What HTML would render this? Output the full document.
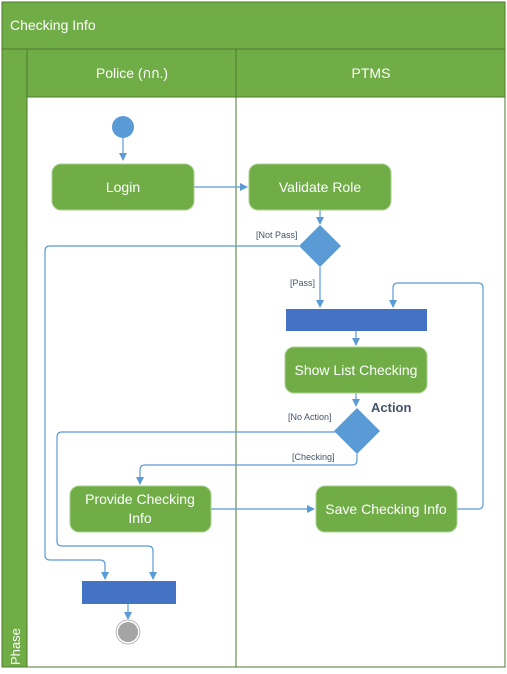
<!DOCTYPE html>
<html><head><style>body{margin:0;background:#fff}svg{display:block}</style></head><body>
<svg width="507" height="674" xmlns="http://www.w3.org/2000/svg" font-family="Liberation Sans, sans-serif">
<defs><marker id="a" markerWidth="8" markerHeight="8" refX="7" refY="4" orient="auto" markerUnits="userSpaceOnUse"><path d="M0,0 L8,4 L0,8 z" fill="#5b9bd5"/></marker></defs>
<rect x="2" y="2" width="503" height="665" fill="#fff" stroke="#4e7a2c"/>
<rect x="2" y="2" width="503" height="47" fill="#70ad47" stroke="#4e7a2c"/>
<text x="10" y="30" font-size="14" fill="#fff">Checking Info</text>
<rect x="2" y="49" width="25" height="618" fill="#70ad47" stroke="#4e7a2c"/>
<text transform="translate(20,665) rotate(-90)" font-size="13" fill="#fff">Phase</text>
<rect x="27" y="49" width="478" height="48" fill="#70ad47" stroke="#4e7a2c"/>
<line x1="236" y1="49" x2="236" y2="667" stroke="#4e7a2c"/>
<text x="132" y="78" font-size="14" fill="#fff" text-anchor="middle">Police (กก.)</text>
<text x="371" y="78" font-size="14" fill="#fff" text-anchor="middle">PTMS</text>
<g fill="none" stroke="#5b9bd5" stroke-width="1.2">
<path d="M123,138 V160" marker-end="url(#a)"/>
<path d="M194,187 H247" marker-end="url(#a)"/>
<path d="M320,210 V224" marker-end="url(#a)"/>
<path d="M320,267 V307" marker-end="url(#a)"/>
<path d="M299,246 H50 Q45,246 45,251 V555 Q45,560 50,560 H100 Q105,560 105,565 V579" marker-end="url(#a)"/>
<path d="M336,432 H62 Q57,432 57,437 V541 Q57,546 62,546 H148 Q153,546 153,551 V579" marker-end="url(#a)"/>
<path d="M357,454 V460 Q357,465 352,465 H145 Q140,465 140,470 V484" marker-end="url(#a)"/>
<path d="M211,509 H314" marker-end="url(#a)"/>
<path d="M457,509 H478 Q483,509 483,504 V288 Q483,283 478,283 H398 Q393,283 393,288 V307" marker-end="url(#a)"/>
<path d="M356,331 V345" marker-end="url(#a)"/>
<path d="M356,393 V406" marker-end="url(#a)"/>
<path d="M128,604 V619" marker-end="url(#a)"/>
</g>
<circle cx="123" cy="127" r="11" fill="#5b9bd5"/>
<g fill="#70ad47" stroke="#a9d18e">
<rect x="52" y="164" width="142" height="46" rx="9"/>
<rect x="249" y="164" width="142" height="46" rx="9"/>
<rect x="285" y="347" width="142" height="46" rx="9"/>
<rect x="70" y="486" width="141" height="46" rx="9"/>
<rect x="316" y="486" width="141" height="46" rx="9"/>
</g>
<g font-size="14" fill="#fff" text-anchor="middle">
<text x="123" y="192">Login</text>
<text x="320" y="192">Validate Role</text>
<text x="356" y="375">Show List Checking</text>
<text x="140" y="504">Provide Checking</text>
<text x="140" y="523">Info</text>
<text x="386" y="514">Save Checking Info</text>
</g>
<path d="M320,225 L341,246 L320,267 L299,246 z" fill="#5b9bd5"/>
<path d="M357,408 L380,431 L357,454 L334,431 z" fill="#5b9bd5"/>
<rect x="286" y="309" width="141" height="22" fill="#4472c4"/>
<rect x="82" y="581" width="94" height="23" fill="#4472c4"/>
<circle cx="128" cy="632" r="12" fill="#fff" stroke="#bbb"/>
<circle cx="128" cy="632" r="10" fill="#a5a5a5"/>
<g font-size="9" fill="#44546a">
<text x="256" y="238">[Not Pass]</text>
<text x="290" y="286">[Pass]</text>
<text x="288" y="420">[No Action]</text>
<text x="292" y="460">[Checking]</text>
</g>
<text x="371" y="412" font-size="13" font-weight="bold" fill="#44546a">Action</text>
</svg>
</body></html>
